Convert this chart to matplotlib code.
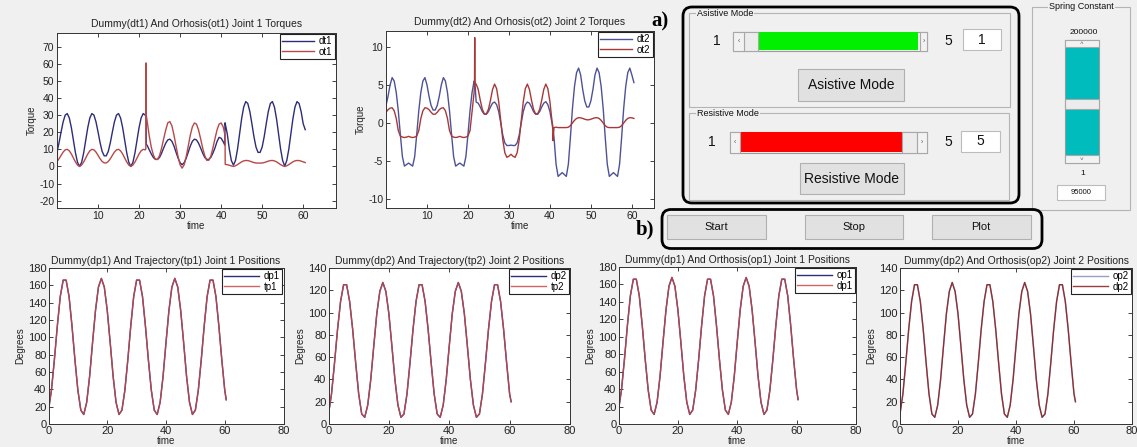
import numpy as np
import matplotlib
matplotlib.use('Agg')
import matplotlib.pyplot as plt
from matplotlib.patches import Rectangle, FancyBboxPatch

plt.rcParams['font.family'] = ['Liberation Sans', 'DejaVu Sans']
plt.rcParams['axes.unicode_minus'] = False

# ---------------- data ----------------
t_torque = np.arange(0, 60.51, 0.5)          # 0 .. 60.5 s, 122 samples
t_pos = np.append(np.arange(0, 61, 1.0), 60.5)  # 0 .. 60.5 s, 62 samples

dt1 = [-17, 13.9, 20.2, 26.1, 30.0, 30.9, 28.3, 22.7, 15.3, 7.9, 2.4, 0, 2.4, 7.9, 15.3, 22.7, 28.3, 30.9, 30.0, 26.1, 20.2, 13.9,
       8.8, 6.2, 6.2, 8.8, 13.9, 20.2, 26.1, 30.0, 30.9, 28.3, 22.7, 15.3, 7.9, 2.4, 0, 2.4, 7.9, 15.3, 22.7, 28.3, 30.9, 30.0,
       12.2, 9.6, 7.2, 5.2, 4.1, 4.1, 5.3, 7.8, 10.8, 13.6, 15.5, 15.95, 14.7, 12.0, 8.4, 4.9, 2.2, 1.0, 2.2, 4.9, 8.4, 12.0,
       14.7, 15.95, 15.5, 13.6, 10.8, 7.8, 5.3, 4.1, 4.1, 5.3, 7.8, 10.8, 14.5, 17.0, 16.5, 14.5,
       25.0, 19.0, 10.1, 3.4, 0.8, 3.4, 10.1, 19.0, 27.9, 34.7, 37.9, 36.8, 32.1, 25.0, 17.4, 11.3, 8.2, 8.2, 11.3, 17.4,
       25.0, 32.1, 36.8, 37.9, 34.7, 27.9, 19.0, 10.1, 3.4, 0.2, 3.4, 10.1, 19.0, 27.9, 34.7, 37.9, 36.8, 32.1, 25.0, 21.5]
dt1_event_t = [0.1, 21.7, 21.75, 40.9, 40.95]
dt1_event_v = [9.5, 31.0, 13.0, 12.5, 25.5]

ot1 = [-7, 4.5, 6.5, 8.4, 9.7, 10.0, 9.1, 7.3, 4.9, 2.6, 0.8, 0, 0.8, 2.6, 4.9, 7.3, 9.1, 10.0, 9.7, 8.4, 6.5, 4.5,
       2.9, 2.05, 2.05, 2.9, 4.5, 6.5, 8.4, 9.7, 10.0, 9.1, 7.3, 4.9, 2.6, 0.8, 0, 0.8, 2.6, 4.9, 7.3, 9.1, 10.0, 9.7,
       26.0, 17.5, 11.0, 6.6, 4.2, 4.1, 6.4, 10.8, 16.2, 21.3, 25.5, 26.2, 23.8, 18.4, 12.1, 5.8, 1.0, -1.0, 1.0, 5.8, 12.1,
       18.4, 23.2, 25.4, 24.7, 21.3, 16.2, 10.8, 6.4, 3.6, 3.6, 6.0, 10.8, 16.2, 21.3, 24.7, 25.4, 23.2,
       1.2, 1.0, 0.7, 0.3, 0, 0.37, 1.06, 1.9, 2.68, 3.24, 3.49, 3.42, 3.1, 2.66, 2.26, 2.0, 1.95, 1.95, 2.0, 2.26,
       2.66, 3.1, 3.42, 3.49, 3.24, 2.68, 1.9, 1.06, 0.37, 0, 0.37, 1.06, 1.9, 2.68, 3.24, 3.49, 3.42, 3.1, 2.66, 2.26]
ot1_event_t = [0.1, 21.65, 21.7, 21.75, 40.95]
ot1_event_v = [3.2, 10.3, 60.5, 30.0, 18.4]

dt2 = [2.3, 3.5, 5.0, 5.95, 5.5, 4.0, 1.6, -1.5, -4.4, -5.65, -5.45, -5.25, -5.45, -5.65, -4.4, -1.5, 1.6, 4.0, 5.5, 5.95,
       5.0, 3.5, 2.3, 1.7, 1.7, 2.3, 3.5, 5.0, 5.95, 5.5, 4.0, 1.6, -1.5, -4.4, -5.65, -5.45, -5.25, -5.45, -5.65, -4.4,
       -1.5, 1.6, 4.0, 5.5,
       2.75, 2.6, 2.1, 1.5, 1.15, 1.15, 1.5, 2.1, 2.6, 2.75, 2.4, 1.5, 0.0, -1.6, -2.6, -2.95, -2.95, -2.9, -2.95, -2.95,
       -2.6, -1.6, 0.0, 1.5, 2.4, 2.75, 2.6, 2.1, 1.5, 1.15, 1.15, 1.5, 2.1, 2.6, 2.8, 2.4, 1.5, 0.0,
       -1.9, -5.4, -7.0, -6.75, -6.5, -6.75, -7.0, -5.4, -1.9, 1.9, 4.8, 6.6, 7.2, 6.3, 4.4, 2.9, 2.1, 2.1, 2.9, 4.4,
       6.3, 7.2, 6.6, 4.8, 1.9, -1.9, -5.4, -7.0, -6.75, -6.5, -6.75, -7.0, -5.4, -1.9, 1.9, 4.8, 6.6, 7.2, 6.3, 5.3]
dt2_event_t = [21.7]
dt2_event_v = [5.3]

ot2 = [1.4, 1.75, 1.95, 2.0, 1.6, 0.6, -1.0, -1.7, -1.85, -1.9, -1.85, -1.75, -1.85, -1.9, -1.85, -1.7, -1.0, 0.6, 1.6, 2.0,
       1.95, 1.75, 1.4, 1.15, 1.15, 1.4, 1.75, 1.95, 2.0, 1.6, 0.6, -1.0, -1.7, -1.85, -1.9, -1.85, -1.75, -1.85, -1.9, -1.85,
       -1.7, -1.0, 1.5, 4.0,
       5.1, 4.4, 3.0, 1.8, 1.2, 1.2, 1.8, 3.0, 4.4, 5.1, 4.5, 2.8, 0.3, -2.2, -3.9, -4.5, -4.35, -4.1, -4.35, -4.5,
       -3.9, -2.2, 0.3, 2.8, 4.5, 5.1, 4.4, 3.0, 1.8, 1.2, 1.2, 1.8, 3.0, 4.4, 5.1, 4.5, 2.8, 0.3,
       -0.6, -0.55, -0.6, -0.6, -0.6, -0.6, -0.6, -0.55, -0.35, 0.0, 0.35, 0.6, 0.7, 0.68, 0.6, 0.5, 0.42, 0.42, 0.5, 0.6,
       0.68, 0.7, 0.6, 0.35, 0.0, -0.35, -0.55, -0.6, -0.6, -0.6, -0.6, -0.6, -0.55, -0.35, 0.0, 0.35, 0.6, 0.7, 0.68, 0.6]
ot2_event_t = [21.6, 21.65, 21.7, 40.7, 40.75]
ot2_event_v = [5.0, 11.2, 5.2, -0.4, -2.3]

joint1_position = [16, 39, 74, 113, 147, 166, 166, 147, 113, 74, 39, 16, 11, 25, 55, 94, 131, 158, 168, 158, 131, 94, 55, 25, 11,
                   16, 39, 74, 113, 147, 166, 166, 147, 113, 74, 39, 16, 11, 25, 55, 94, 131, 158, 168, 158, 131, 94, 55, 25, 11,
                   16, 39, 74, 113, 147, 166, 166, 147, 113, 74, 39, 28]
joint2_position = [9, 27, 55, 85, 110, 125, 125, 110, 85, 55, 27, 9, 6, 17, 40, 70, 99, 119, 127, 119, 99, 70, 40, 17, 6,
                   9, 27, 55, 85, 110, 125, 125, 110, 85, 55, 27, 9, 6, 17, 40, 70, 99, 119, 127, 119, 99, 70, 40, 17, 6,
                   9, 27, 55, 85, 110, 125, 125, 110, 85, 55, 27, 20]
dp1 = tp1 = op1 = joint1_position
dp2 = tp2 = op2 = joint2_position

# ---------------- figure ----------------
W, H = 1137, 447
fig = plt.figure(figsize=(W / 100, H / 100), dpi=100, facecolor='#f0f0f0')


def px_axes(l, t, r, b):
    return fig.add_axes([l / W, 1 - b / H, (r - l) / W, (b - t) / H])


def merge(t, v, et, ev):
    tt = np.concatenate([np.asarray(t, float), np.asarray(et, float)])
    vv = np.concatenate([np.asarray(v, float), np.asarray(ev, float)])
    o = np.argsort(tt, kind='stable')
    return tt[o], vv[o]


def style(ax, xlim, ylim, xticks, yticks, title, ylabel, tpad=3):
    ax.set_facecolor('white')
    ax.set_xlim(xlim)
    ax.set_ylim(ylim)
    ax.set_xticks(xticks)
    ax.set_yticks(yticks)
    ax.tick_params(direction='in', top=True, right=True, length=3, width=0.6,
                   labelsize=7.5, pad=2, colors='#222222')
    for s in ax.spines.values():
        s.set_linewidth(0.7)
        s.set_color('#333333')
    ax.set_title(title, fontsize=7.5, pad=tpad, color='#222222')
    ax.set_xlabel('time', fontsize=7, labelpad=0.5, color='#222222')
    ax.set_ylabel(ylabel, fontsize=7, labelpad=2, color='#222222')


def legend(ax, hl=3.3):
    lg = ax.legend(loc='upper right', fontsize=7, handlelength=hl, frameon=True, fancybox=False,
                   edgecolor='#222222', borderpad=0.2, labelspacing=0.05, handletextpad=0.5,
                   borderaxespad=0.15)
    lg.get_frame().set_linewidth(0.8)
    lg.get_frame().set_facecolor('white')
    lg.get_frame().set_alpha(1)


# top-left: joint 1 torques
ax1 = px_axes(57, 33, 336, 208)
tt, vv = merge(t_torque, dt1, dt1_event_t, dt1_event_v)
ax1.plot(tt, vv, color='#2c2c7a', lw=1.0, label='dt1')
tt, vv = merge(t_torque, ot1, ot1_event_t, ot1_event_v)
ax1.plot(tt, vv, color='#b84848', lw=1.0, label='ot1')
style(ax1, (0, 68), (-24.3, 78), range(10, 61, 10), range(-20, 71, 10),
      'Dummy(dt1) And Orhosis(ot1) Joint 1 Torques', 'Torque', tpad=4)
legend(ax1)

# top-middle: joint 2 torques
ax2 = px_axes(386, 31, 654, 208)
tt, vv = merge(t_torque, dt2, dt2_event_t, dt2_event_v)
ax2.plot(tt, vv, color='#4d5296', lw=1.0, label='dt2')
tt, vv = merge(t_torque, ot2, ot2_event_t, ot2_event_v)
ax2.plot(tt, vv, color='#a83838', lw=1.0, label='ot2')
style(ax2, (0, 65.4), (-11.14, 12.06), range(10, 61, 10), range(-10, 11, 5),
      'Dummy(dt2) And Orhosis(ot2) Joint 2 Torques', 'Torque', tpad=4)
legend(ax2)

# bottom row: positions
bottom = [
    ((48.5, 268, 283.5, 424), dp1, tp1, 'dp1', 'tp1', '#2c2c78', '#c84a4a', 180,
     'Dummy(dp1) And Trajectory(tp1) Joint 1 Positions'),
    ((328.5, 268, 570, 424), dp2, tp2, 'dp2', 'tp2', '#2c2c78', '#c84a4a', 140,
     'Dummy(dp2) And Trajectory(tp2) Joint 2 Positions'),
    ((618.5, 267, 856, 424), op1, dp1, 'op1', 'dp1', '#2c2c78', '#c84a4a', 180,
     'Dummy(dp1) And Orthosis(op1) Joint 1 Positions'),
    ((900, 268, 1132, 424), op2, dp2, 'op2', 'dp2', '#9a9ec4', '#8a1c1c', 140,
     'Dummy(dp2) And Orthosis(op2) Joint 2 Positions'),
]
for box, s1, s2, n1, n2, c1, c2, ymax, title in bottom:
    ax = px_axes(*box)
    ax.plot(t_pos, s1, color=c1, lw=1.0, label=n1)
    ax.plot(t_pos, s2, color=c2, lw=1.0, alpha=0.85, label=n2)
    style(ax, (0, 80), (0, ymax), range(0, 81, 20), range(0, ymax + 1, 20), title, 'Degrees')
    ax.tick_params(labelsize=8, pad=1.5)
    ax.xaxis.labelpad = 0
    legend(ax, hl=3.6)

# ---------------- GUI panel (pixel coordinates) ----------------
gui = fig.add_axes([0, 0, 1, 1], zorder=5)
gui.set_xlim(0, W)
gui.set_ylim(H, 0)
gui.axis('off')
gui.patch.set_alpha(0)


def rect(x0, y0, x1, y1, fc='none', ec='#a0a0a0', lw=0.8, z=2):
    gui.add_patch(Rectangle((x0, y0), x1 - x0, y1 - y0, fc=fc, ec=ec, lw=lw, zorder=z))


def txt(x, y, s, size, ha='center', **kw):
    gui.text(x, y, s, fontsize=size, ha=ha, va='center', color=kw.pop('color', '#111111'), zorder=6, **kw)


def rbox(x0, y0, x1, y1):
    gui.add_patch(FancyBboxPatch((x0, y0), x1 - x0, y1 - y0,
                                 boxstyle='round,pad=0,rounding_size=9',
                                 fill=False, ec='black', lw=2.0, zorder=7))


def panel(x0, y0, x1, y1, title, tx, ha='left'):
    rect(x0, y0, x1, y1, ec='#b4b4b4', lw=0.8)
    gui.text(tx, y0, title, fontsize=6.5, ha=ha, va='center', color='#111111', zorder=6,
             bbox=dict(fc='#f0f0f0', ec='none', pad=0.6))


def hslider(x0, x1, y0, y1, fill_x0, fill_x1, color, thumb_x0, thumb_x1, la, ra):
    rect(x0, y0, x1, y1, fc='#f0f0f0', ec='#9a9a9a')
    rect(fill_x0, y0 + 0.5, fill_x1, y1 - 0.5, fc=color, ec='none', lw=0, z=3)
    rect(thumb_x0, y0, thumb_x1, y1, fc='#ececec', ec='#a8a8a8', z=3)
    rect(x0, y0, la, y1, fc='#f2f2f2', ec='#a8a8a8', z=3)
    rect(ra, y0, x1, y1, fc='#f2f2f2', ec='#a8a8a8', z=3)
    txt((x0 + la) / 2, (y0 + y1) / 2, '\u2039', 5, color='#555555')
    txt((ra + x1) / 2, (y0 + y1) / 2, '\u203a', 5, color='#555555')


def button(x0, y0, x1, y1, label, size):
    rect(x0, y0, x1, y1, fc='#e1e1e1', ec='#b0b0b0', lw=0.8)
    txt((x0 + x1) / 2, (y0 + y1) / 2, label, size)


def editbox(x0, y0, x1, y1, label, size):
    rect(x0, y0, x1, y1, fc='white', ec='#bcbcbc', lw=0.8)
    txt((x0 + x1) / 2, (y0 + y1) / 2, label, size)


# a) group
txt(660, 21, 'a)', 15, family=['Liberation Serif', 'DejaVu Serif'], weight='bold', color='black')
rbox(683, 7, 1019, 203)
panel(689, 13, 1010, 107, 'Asistive Mode', 697)
txt(716.7, 41, '1', 10)
hslider(733, 927, 31.7, 50.7, 758, 917.5, '#00f000', 744, 758, 744, 920)
txt(948.3, 41, '5', 10)
editbox(962.7, 29.3, 1001.3, 50, '1', 10)
button(798.3, 69.3, 904, 100.7, 'Asistive Mode', 10)

panel(689, 113, 1009, 200, 'Resistive Mode', 697)
txt(712, 141.5, '1', 10)
hslider(730, 927, 131.7, 152.7, 740, 902, '#ff0000', 902, 916.7, 740, 916.7)
txt(948.3, 141.5, '5', 10)
editbox(960.7, 130.7, 1000, 151.7, '5', 10)
button(800, 163.3, 904, 194, 'Resistive Mode', 10)

# spring constant panel
panel(1031.7, 6.5, 1130, 210, 'Spring Constant', 1081.5, ha='center')
txt(1083.3, 32.7, '200000', 6)
rect(1065, 40, 1099.3, 163.3, fc='#f0f0f0', ec='#9a9a9a')
rect(1065.5, 47, 1098.8, 99.3, fc='#00bcbc', ec='none', lw=0, z=3)
rect(1065.5, 109, 1098.8, 155, fc='#00bcbc', ec='none', lw=0, z=3)
rect(1065, 99.3, 1099.3, 109, fc='#ececec', ec='#a8a8a8', z=3)
rect(1065, 40, 1099.3, 47, fc='#f2f2f2', ec='#a8a8a8', z=3)
rect(1065, 155, 1099.3, 163.3, fc='#f2f2f2', ec='#a8a8a8', z=3)
txt(1082, 43.5, '\u02c4', 4.5, color='#555555')
txt(1082, 159, '\u02c5', 4.5, color='#555555')
txt(1083, 173.3, '1', 6)
editbox(1057.3, 185, 1105, 200, '95000', 5.5)

# b) group
txt(645, 229, 'b)', 15, family=['Liberation Serif', 'DejaVu Serif'], weight='bold', color='black')
rbox(662, 209.5, 1042, 248.5)
button(667.3, 215, 766, 239.3, 'Start', 8)
button(805, 215, 903.3, 239.3, 'Stop', 8)
button(931.7, 215, 1030.7, 239.3, 'Plot', 8)

fig.savefig('out.png', dpi=100, facecolor=fig.get_facecolor())
